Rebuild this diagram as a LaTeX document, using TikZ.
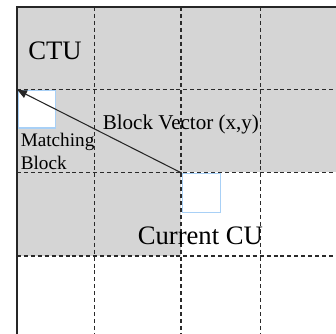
\documentclass[tikz,border=0pt]{standalone}
\usepackage{fontspec}
\setmainfont{Liberation Serif}
\usetikzlibrary{arrows.meta}
\definecolor{ctugray}{HTML}{D5D5D5}
\definecolor{blkblue}{HTML}{A8D0F6}
\definecolor{gridline}{HTML}{2A2A2A}
\tikzset{
  gridrule/.style={draw=gridline, line width=1pt, dash pattern=on 3pt off 2.2pt},
  blockbox/.style={draw=blkblue, fill=white, line width=0.9pt},
  lbl/.style={inner sep=0pt, text=black},
  vecarrow/.style={draw=black!85, line width=0.8pt, -{Triangle[length=7pt,width=6pt]}}
}
\begin{document}
\begin{tikzpicture}[x=0.75pt,y=-0.75pt]
  \useasboundingbox (0,0) rectangle (336,334);
  % coded area and the current CTU row
  \fill[ctugray] (17,7) rectangle (336,172.5);
  \fill[ctugray] (17,172.5) rectangle (181,256);
  % blocks
  \node[blockbox, minimum width=37pt*0.75, minimum height=37.5pt*0.75, inner sep=0pt, anchor=north west] (match) at (17.5,90) {};
  \node[blockbox, minimum width=38pt*0.75, minimum height=38.5pt*0.75, inner sep=0pt, anchor=north west] (cur) at (182,173.2) {};
  % grid of CUs
  \foreach \x in {94.3,181,260.7}
    \draw[gridrule] (\x,7) -- (\x,334);
  \foreach \y in {89.3,172.5,256}
    \draw[gridrule] (17,\y) -- (336,\y);
  % picture border
  \draw[black!85, line width=1.3pt] (16.7,334) -- (16.7,7) -- (336,7);
  % block vector
  \draw[vecarrow] (cur.north west) -- (match.north west);
  % labels
  \node[lbl, font=\fontsize{20pt}{22pt}\selectfont, anchor=base] (ctu) at (55,60) {CTU};
  \node[lbl, font=\fontsize{15.8pt}{17pt}\selectfont, anchor=base west] (bv) at (102.5,129.3) {Block Vector (x,y)};
  \node[lbl, font=\fontsize{14.4pt}{16pt}\selectfont, anchor=base west] (m1) at (20.5,146.5) {Matching};
  \node[lbl, font=\fontsize{14.4pt}{16pt}\selectfont, anchor=base west] (m2) at (20.5,170) {Block};
  \node[lbl, font=\fontsize{20pt}{22pt}\selectfont, anchor=base west] (cucap) at (137.5,245) {Current CU};
\end{tikzpicture}
\end{document}
